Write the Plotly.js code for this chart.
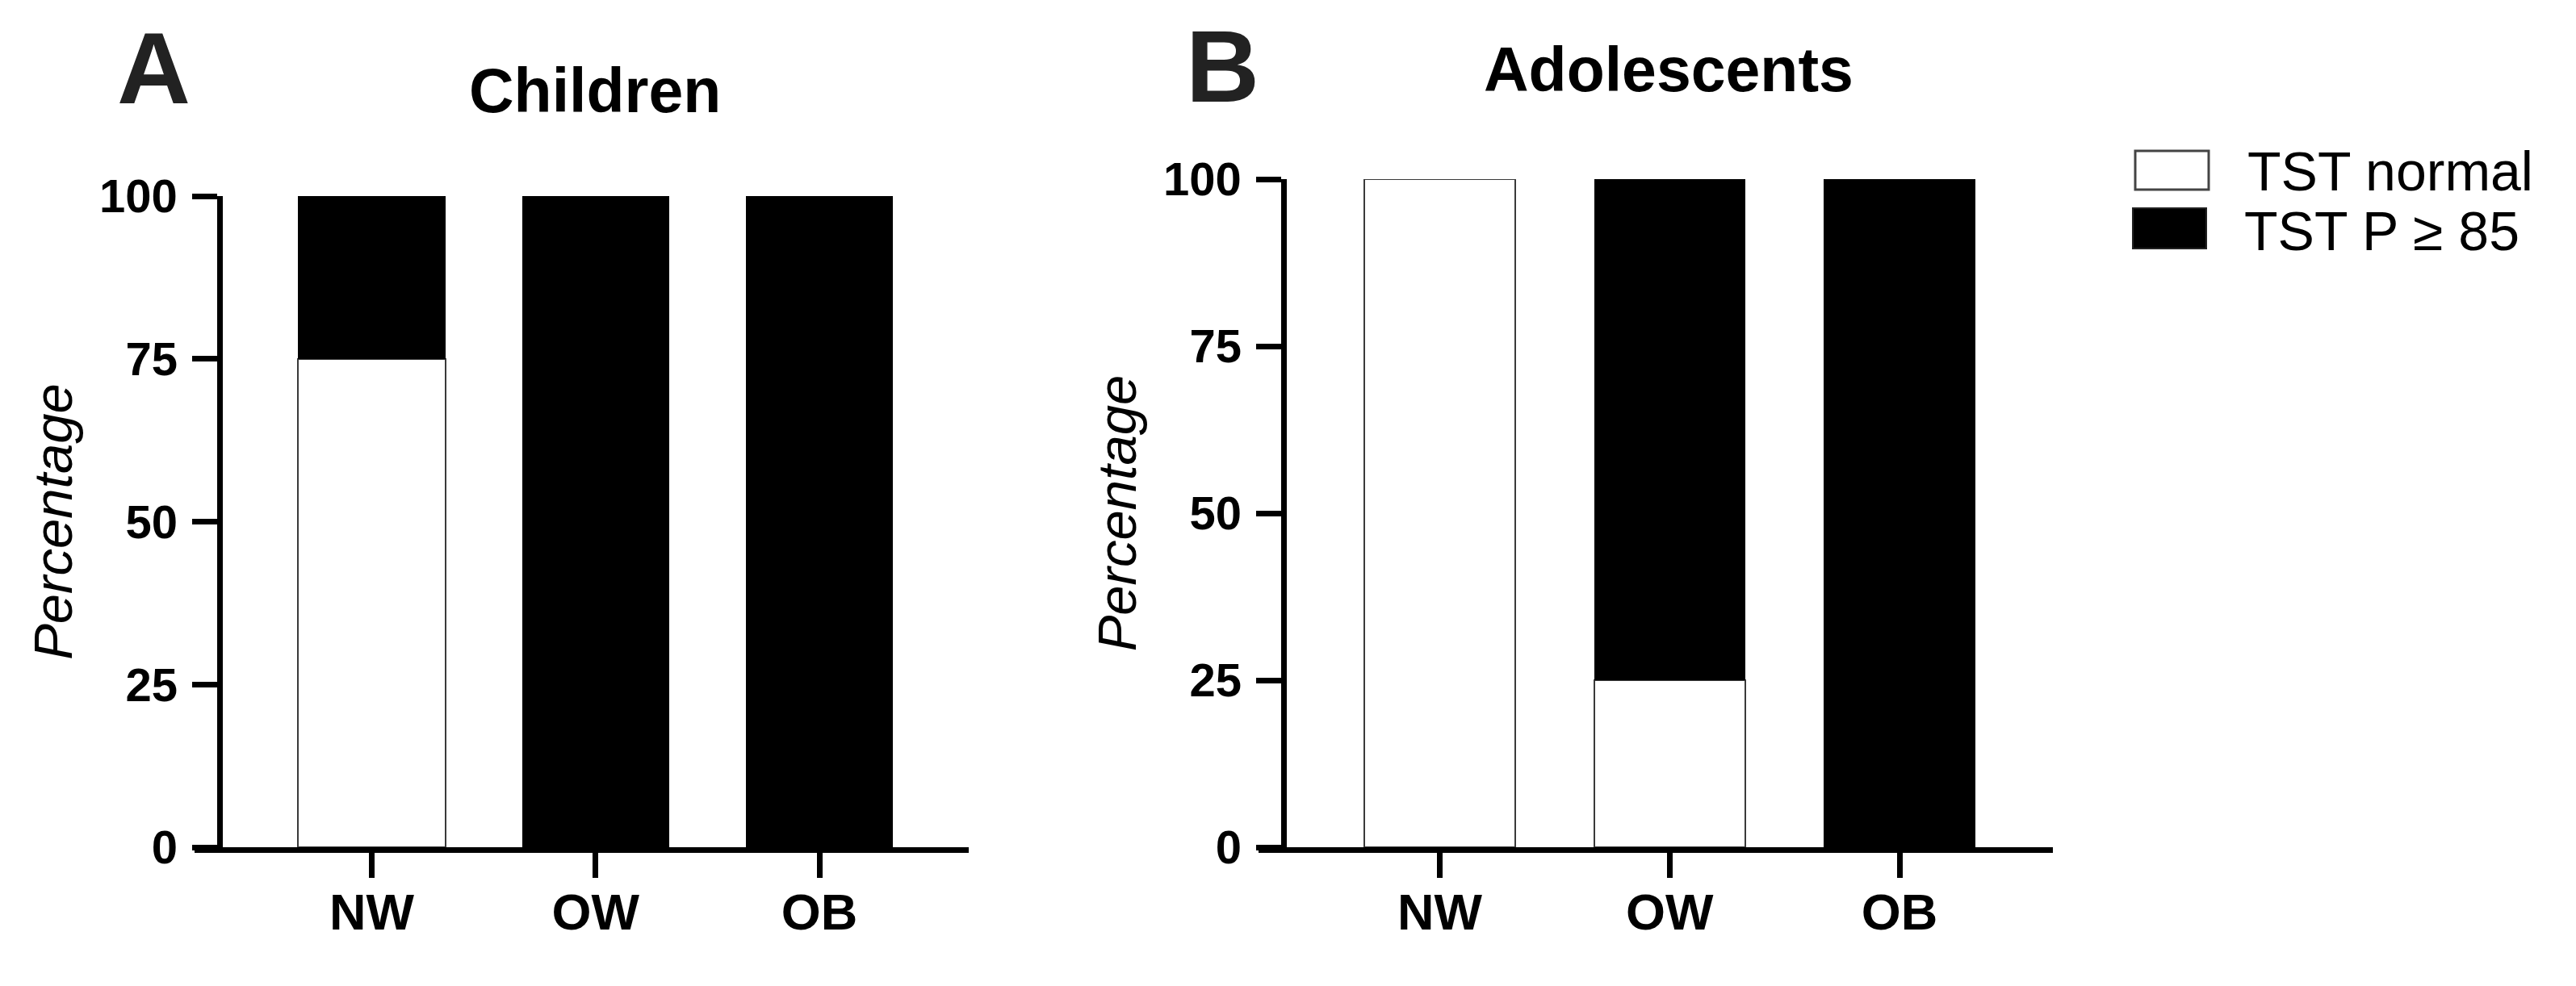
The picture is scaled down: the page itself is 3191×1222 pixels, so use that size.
<!DOCTYPE html>
<html>
<head>
<meta charset="utf-8">
<script src="https://cdn.plot.ly/plotly-3.0.1.min.js"></script>
<style>html,body{margin:0;padding:0;background:#fff;}#chart{width:3191px;height:1222px;}</style>
</head>
<body>
<div id="chart"></div>
<script>
// ---- data ----
const categories = ['NW', 'OW', 'OB'];
const childrenNormal = [75, 0, 0];
const childrenHigh = [25, 100, 100];
const adolescentsNormal = [100, 25, 0];
const adolescentsHigh = [0, 75, 100];
const yTickVals = [0, 25, 50, 75, 100];
const seriesNames = ['TST normal', 'TST P \u2265 85'];
const panelTitles = ['Children', 'Adolescents'];
const panelLetters = ['A', 'B'];

// ---- layout helpers (pixel -> paper) ----
const W = 3191, H = 1222;
const px = x => x / W;
const py = y => 1 - y / H;
const FONT = 'Liberation Sans, Arial, Helvetica, sans-serif';

const whiteStyle = {color: '#ffffff', line: {color: '#3a3a3a', width: 2}};
const blackStyle = {color: '#000000', line: {color: '#000000', width: 0}};

const traces = [
  {type: 'bar', x: categories, y: childrenNormal, name: seriesNames[0], marker: whiteStyle, xaxis: 'x', yaxis: 'y', showlegend: false},
  {type: 'bar', x: categories, y: childrenHigh, name: seriesNames[1], marker: blackStyle, xaxis: 'x', yaxis: 'y', showlegend: false},
  {type: 'bar', x: categories, y: adolescentsNormal, name: seriesNames[0], marker: whiteStyle, xaxis: 'x2', yaxis: 'y2', showlegend: false},
  {type: 'bar', x: categories, y: adolescentsHigh, name: seriesNames[1], marker: blackStyle, xaxis: 'x2', yaxis: 'y2', showlegend: false}
];

const LW = 7;
function xAxis(domain, anchor) {
  return {
    domain: domain, anchor: anchor, type: 'category', range: [-0.667, 2.667],
    showline: true, linecolor: '#000', linewidth: LW,
    ticks: 'outside', ticklen: 31, tickwidth: LW, tickcolor: '#000',
    showgrid: false, zeroline: false, fixedrange: true,
    tickfont: {family: FONT, size: 63, color: '#000', weight: 700},
    ticklabelstandoff: -12
  };
}
function yAxis(domain, anchor) {
  return {
    domain: domain, anchor: anchor, range: [0, 100],
    tickmode: 'array', tickvals: yTickVals, ticktext: yTickVals.map(String),
    showline: true, linecolor: '#000', linewidth: LW,
    ticks: 'outside', ticklen: 31, tickwidth: LW, tickcolor: '#000',
    showgrid: false, zeroline: false, fixedrange: true,
    tickfont: {family: FONT, size: 58, color: '#000', weight: 700},
    ticklabelstandoff: 6,
    title: {text: 'Percentage', standoff: 14, font: {family: FONT, size: 67, color: '#000', style: 'italic'}}
  };
}

const annotations = [
  {text: panelLetters[0], x: px(190), y: py(84), xref: 'paper', yref: 'paper', xanchor: 'center', yanchor: 'middle', showarrow: false, font: {family: FONT, size: 126, color: '#222', weight: 700}},
  {text: panelLetters[1], x: px(1514), y: py(83), xref: 'paper', yref: 'paper', xanchor: 'center', yanchor: 'middle', showarrow: false, font: {family: FONT, size: 126, color: '#222', weight: 700}},
  {text: panelTitles[0], x: px(737), y: py(112), xref: 'paper', yref: 'paper', xanchor: 'center', yanchor: 'middle', showarrow: false, font: {family: FONT, size: 77, color: '#000', weight: 700}},
  {text: panelTitles[1], x: px(2067), y: py(86), xref: 'paper', yref: 'paper', xanchor: 'center', yanchor: 'middle', showarrow: false, font: {family: FONT, size: 77, color: '#000', weight: 700}},
  {text: seriesNames[0], x: px(2782), y: py(212), xref: 'paper', yref: 'paper', xanchor: 'left', yanchor: 'middle', showarrow: false, font: {family: FONT, size: 68, color: '#000'}},
  {text: seriesNames[1], x: px(2778), y: py(286), xref: 'paper', yref: 'paper', xanchor: 'left', yanchor: 'middle', showarrow: false, font: {family: FONT, size: 68, color: '#000'}}
];

const shapes = [
  // legend swatches
  {type: 'rect', xref: 'paper', yref: 'paper', x0: px(2645), x1: px(2736), y0: py(235), y1: py(187), fillcolor: '#fff', line: {color: '#444', width: 3}},
  {type: 'rect', xref: 'paper', yref: 'paper', x0: px(2642), x1: px(2733), y0: py(308), y1: py(258), fillcolor: '#000', line: {color: '#222', width: 2}},
  // x-axis baseline extends under the y ticks
  {type: 'line', xref: 'paper', yref: 'paper', x0: px(241), x1: px(276), y0: py(1053.5), y1: py(1053.5), line: {color: '#000', width: LW}},
  {type: 'line', xref: 'paper', yref: 'paper', x0: px(1559), x1: px(1594), y0: py(1053.5), y1: py(1053.5), line: {color: '#000', width: LW}}
];

const layout = {
  width: W, height: H,
  margin: {l: 0, r: 0, t: 0, b: 0},
  paper_bgcolor: '#fff', plot_bgcolor: '#fff',
  barmode: 'stack', bargap: 0.343,
  showlegend: false,
  font: {family: FONT, color: '#000'},
  xaxis: xAxis([px(275.5), px(1200)], 'y'),
  yaxis: yAxis([py(1050), py(243)], 'x'),
  xaxis2: xAxis([px(1593.5), px(2543)], 'y2'),
  yaxis2: yAxis([py(1050), py(222)], 'x2'),
  annotations: annotations,
  shapes: shapes
};

Plotly.newPlot('chart', traces, layout, {staticPlot: true, displayModeBar: false});
</script>
</body>
</html>
